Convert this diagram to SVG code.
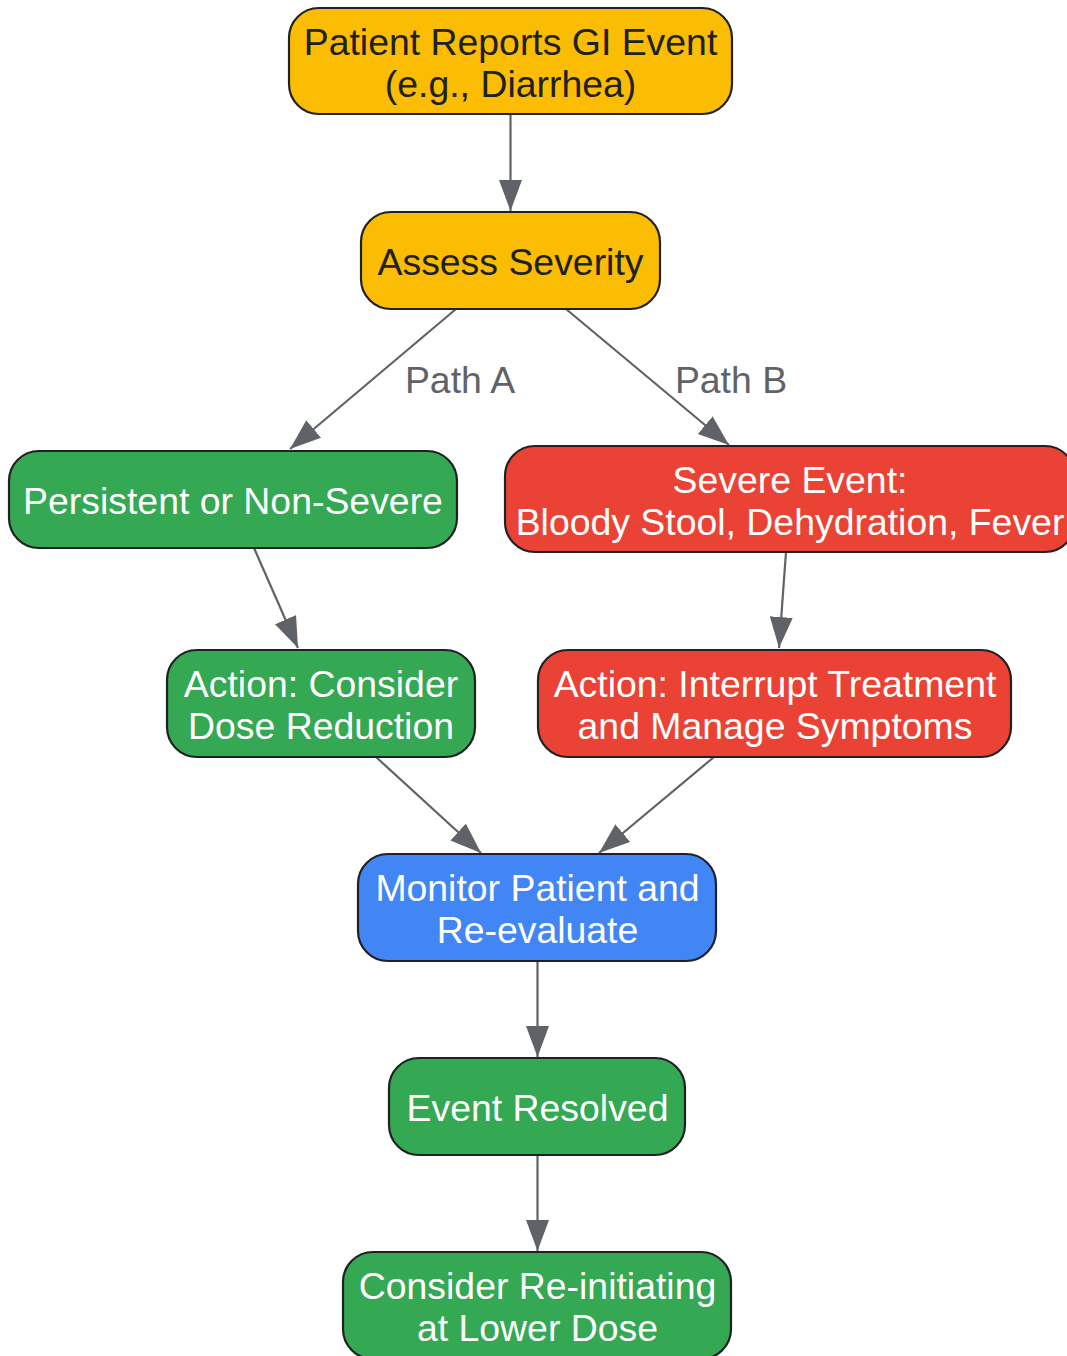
<svg xmlns="http://www.w3.org/2000/svg" width="1067" height="1356" viewBox="0 0 1067 1356">
<style>
  .n { stroke: #202124; stroke-width: 2.2; }
  .y { fill: #FBBC04; }
  .g { fill: #34A853; }
  .r { fill: #EA4335; }
  .b { fill: #4285F4; }
  text { font-family: "Liberation Sans", Arial, sans-serif; font-size: 37.4px; text-anchor: middle; }
  .dk { fill: #202124; }
  .wt { fill: #FFFFFF; }
  .lbl { fill: #5F6368; }
  .e { stroke: #5F6368; stroke-width: 2.2; fill: none; marker-end: url(#ah); }
</style>
<defs>
  <marker id="ah" markerUnits="userSpaceOnUse" markerWidth="32" markerHeight="24" refX="31" refY="11.5" orient="auto">
    <path d="M0,0 L31,11.5 L0,23 Z" fill="#5F6368"/>
  </marker>
</defs>
<g id="connectors">
  <line class="e" x1="510.5" y1="115" x2="510.5" y2="211"/>
  <line class="e" x1="456" y1="309" x2="290" y2="449"/>
  <line class="e" x1="566" y1="309" x2="729" y2="445"/>
  <line class="e" x1="254" y1="548" x2="298" y2="648"/>
  <line class="e" x1="786" y1="552" x2="779" y2="648"/>
  <line class="e" x1="376" y1="757" x2="481" y2="853"/>
  <line class="e" x1="714" y1="757" x2="599" y2="853"/>
  <line class="e" x1="537.5" y1="961" x2="537.5" y2="1057"/>
  <line class="e" x1="537.5" y1="1155" x2="537.5" y2="1251"/>
  <text class="lbl" x="460" y="393">Path A</text>
  <text class="lbl" x="731" y="393">Path B</text>
</g>
<g id="n1">
  <rect class="n y" x="289" y="8" width="443" height="106" rx="30"/>
  <text class="dk" x="510.5" y="55">Patient Reports GI Event</text>
  <text class="dk" x="510.5" y="97">(e.g., Diarrhea)</text>
</g>
<g id="n2">
  <rect class="n y" x="361" y="212" width="299" height="97" rx="30"/>
  <text class="dk" x="510.5" y="275">Assess Severity</text>
</g>
<g id="n3">
  <rect class="n g" x="9" y="451" width="448" height="97" rx="30"/>
  <text class="wt" x="233" y="514">Persistent or Non-Severe</text>
</g>
<g id="n4">
  <rect class="n r" x="505" y="446" width="570" height="106" rx="30"/>
  <text class="wt" x="790" y="493">Severe Event:</text>
  <text class="wt" x="790" y="535">Bloody Stool, Dehydration, Fever</text>
</g>
<g id="n5">
  <rect class="n g" x="167" y="650" width="308" height="107" rx="30"/>
  <text class="wt" x="321" y="697">Action: Consider</text>
  <text class="wt" x="321" y="739">Dose Reduction</text>
</g>
<g id="n6">
  <rect class="n r" x="538" y="650" width="473" height="107" rx="30"/>
  <text class="wt" x="775" y="697">Action: Interrupt Treatment</text>
  <text class="wt" x="775" y="739">and Manage Symptoms</text>
</g>
<g id="n7">
  <rect class="n b" x="358" y="854" width="358" height="107" rx="30"/>
  <text class="wt" x="537.5" y="901">Monitor Patient and</text>
  <text class="wt" x="537.5" y="943">Re-evaluate</text>
</g>
<g id="n8">
  <rect class="n g" x="389" y="1058" width="296" height="97" rx="30"/>
  <text class="wt" x="537.5" y="1121">Event Resolved</text>
</g>
<g id="n9">
  <rect class="n g" x="343" y="1252" width="388" height="107" rx="30"/>
  <text class="wt" x="537.5" y="1299">Consider Re-initiating</text>
  <text class="wt" x="537.5" y="1341">at Lower Dose</text>
</g>
</svg>
